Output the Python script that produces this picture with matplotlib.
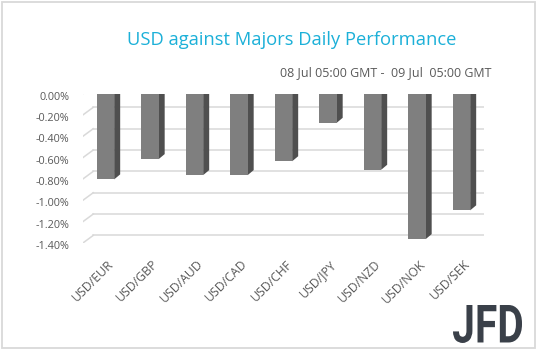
import matplotlib
matplotlib.use("Agg")
import matplotlib.pyplot as plt
from matplotlib.patches import Polygon, Rectangle, PathPatch
from matplotlib.textpath import TextPath
from matplotlib.font_manager import FontProperties
from matplotlib.transforms import Affine2D, IdentityTransform

# Data
pairs = ["USD/EUR", "USD/GBP", "USD/AUD", "USD/CAD", "USD/CHF",
         "USD/JPY", "USD/NZD", "USD/NOK", "USD/SEK"]
change = [-0.80, -0.61, -0.76, -0.76, -0.63, -0.27, -0.71, -1.36, -1.09]
yticks = [0.0, -0.2, -0.4, -0.6, -0.8, -1.0, -1.2, -1.4]

W, H = 538, 351
fig = plt.figure(figsize=(W / 100, H / 100), dpi=100)
fig.patch.set_facecolor("white")

# axes placed so that the bar front plane matches the reference
ax = fig.add_axes([83.25 / W, 1 - 243.4 / H, 400.5 / W, 149.4 / H])
ax.set_xlim(-0.5, len(pairs) - 0.5)
ax.set_ylim(-1.4, 0)
ax.axis("off")

grid_c = "#d9d9d9"
txt_c = "#595959"
font = "Open Sans"

def px(x, y):
    return ax.transData.transform((x, y))

# back wall gridlines and slanted floor lines
back_dx, back_dy = 10, 8
front_dx, front_dy = -5, -3
for v in yticks:
    xl, yl = px(-0.5, v)
    xr, _ = px(len(pairs) - 0.5, v)
    ax.add_line(plt.Line2D([xl + back_dx, xr + back_dx], [yl + back_dy, yl + back_dy],
                           transform=IdentityTransform(), color=grid_c, lw=1.1))
    ax.add_line(plt.Line2D([xl + front_dx, xl + back_dx], [yl + front_dy, yl + back_dy],
                           transform=IdentityTransform(), color=grid_c, lw=1.1))
    ax.text(xl - 14, yl + front_dy, f"{v:.2f}%".replace("-0.00", "0.00"),
            transform=IdentityTransform(), ha="right", va="center",
            fontsize=7.8, color=txt_c, family=font)

# pseudo 3D bars
bw = 0.39
dx, dy = 6, 5
for i, v in enumerate(change):
    x0, yt = px(i - bw / 2, 0)
    x1, yb = px(i + bw / 2, v)
    front = Rectangle((x0, yb), x1 - x0, yt - yb, transform=IdentityTransform(),
                      facecolor="#7f7f7f", edgecolor="none", zorder=3)
    side = Polygon([(x1, yt), (x1 + dx, yt + dy), (x1 + dx, yb + dy), (x1, yb)],
                   closed=True, transform=IdentityTransform(),
                   facecolor="#4f4f4f", edgecolor="none", zorder=3)
    top = Polygon([(x0, yt), (x0 + dx, yt + dy), (x1 + dx, yt + dy), (x1, yt)],
                  closed=True, transform=IdentityTransform(),
                  facecolor="#5c5c5c", edgecolor="none", zorder=3)
    for p in (side, top, front):
        ax.add_artist(p)

    # category label
    lx, ly = px(i, -1.4)
    ax.text(lx + 2, ly - 14, pairs[i], transform=IdentityTransform(),
            rotation=45, rotation_mode="anchor", ha="right", va="top",
            fontsize=8.8, color=txt_c, family=font)

# titles
fig.text(292 / W, 1 - 40 / H, "USD against Majors Daily Performance",
         ha="center", va="center", fontsize=13.2, color="#1cb0d8", family=font)
fig.text(492 / W, 1 - 73 / H, "08 Jul 05:00 GMT -  09 Jul  05:00 GMT",
         ha="right", va="center", fontsize=9, color=txt_c, family=font)

# border
fig.patches.append(Rectangle((2 / W, 3 / H), 533 / W, 346 / H, transform=fig.transFigure,
                             fill=False, edgecolor=grid_c, lw=1.3))

# JFD logo
tp = TextPath((0, 0), "JFD", size=40, prop=FontProperties(family="Roboto", weight="bold"))
bb = tp.get_extents()
sx = 69 / bb.width
sy = 38 / bb.height
tr = Affine2D().translate(-bb.x0, -bb.y0).scale(sx, sy).translate(453, 8)
fig.patches.append(PathPatch(tr.transform_path(tp), transform=IdentityTransform(),
                             facecolor="#3a4049", edgecolor="none"))

fig.savefig("out.png", dpi=100)
